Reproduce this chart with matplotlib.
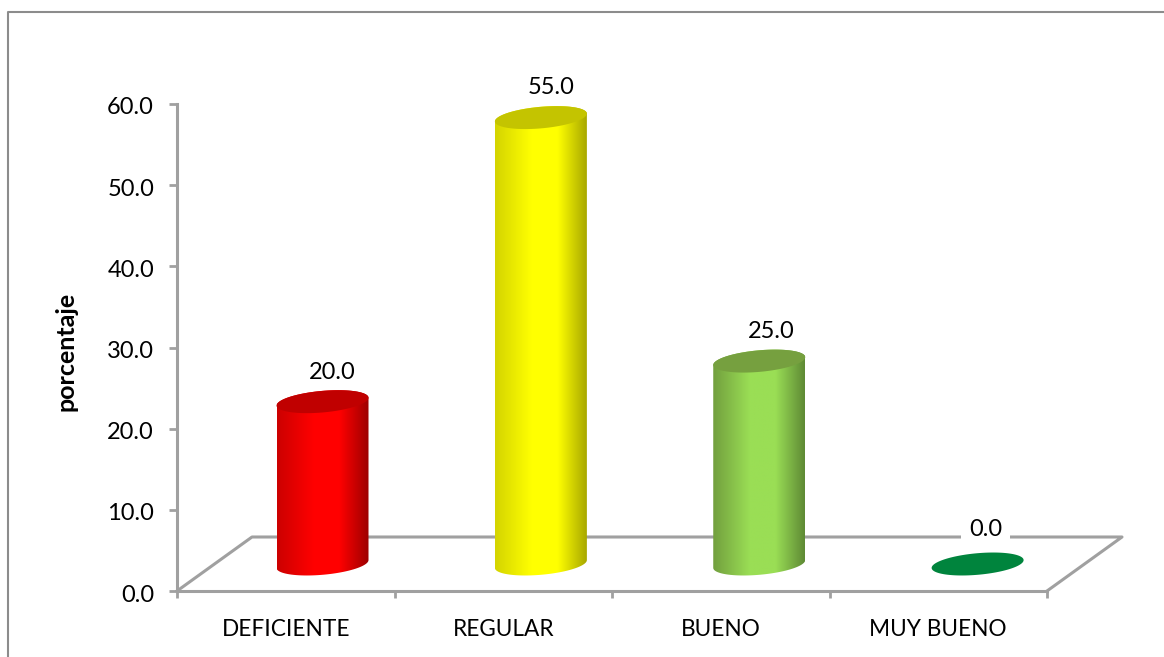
import numpy as np
import matplotlib.pyplot as plt
from matplotlib.colors import LinearSegmentedColormap
from matplotlib.lines import Line2D
from matplotlib.patches import Polygon
from matplotlib.transforms import ScaledTranslation

categories = ["DEFICIENTE", "REGULAR", "BUENO", "MUY BUENO"]
values = [20.0, 55.0, 25.0, 0.0]
y_ticks = [0, 10, 20, 30, 40, 50, 60]
# left edge, bright, dark right edge, top face
bar_colors = [
    ["#cc0000", "#ff0000", "#9c0000", "#c00000"],
    ["#d4d400", "#ffff00", "#a8a800", "#c4c400"],
    ["#729f3e", "#9ade55", "#5f8a35", "#76a03f"],
    ["#00843d", "#00843d", "#00843d", "#00843d"],
]
label_dx = [10, 10, 12, 8]
label_dy = [29, 30, 30, 34]

plt.rcParams["font.family"] = ["Lato", "DejaVu Sans"]
fig = plt.figure(figsize=(11.64, 6.57), dpi=100)
ax = fig.add_axes([177 / 1164, 66 / 657, 870 / 1164, 487 / 657])
ax.set_xlim(0, 4)
ax.set_ylim(0, 60)

# pixels per data unit
sx = 870 / 4
sy = 487 / 60
depth_x = 75 / sx
depth_y = 54 / sy
gray = "#a0a0a0"

# outer frame only shows on the left and top, the rest is cropped
fig.add_artist(Line2D([8 / 1164, 8 / 1164, 1], [0, 1 - 11.5 / 657, 1 - 11.5 / 657],
                      color="#8c8c8c", lw=1.5, transform=fig.transFigure))

ax.plot([0, depth_x, 4 + depth_x, 4], [0, depth_y, depth_y, 0], color=gray, lw=2.2,
        clip_on=False, zorder=1)


def ellipse(cx, cy, t):
    a = 46
    b = 10.8
    tilt = 0.085
    px = a * np.cos(t)
    py = a * tilt * np.cos(t) + b * np.sin(t)
    return cx + px / sx, cy + py / sy


t_all = np.linspace(0, 2 * np.pi, 100)
t_low = np.linspace(np.pi, 2 * np.pi, 50)
t_up = np.linspace(0, np.pi, 50)
for i, v in enumerate(values):
    cx = 0.669 + i * 1.004
    base = depth_y / 2
    top = base + v
    c = bar_colors[i]
    if v > 0:
        xb, yb = ellipse(cx, base, t_low)
        xt, yt = ellipse(cx, top, t_up)
        poly = Polygon(np.column_stack([np.r_[xb, xt], np.r_[yb, yt]]), closed=True,
                       transform=ax.transData, fc="none", ec="none")
        ax.add_patch(poly)
        cmap = LinearSegmentedColormap.from_list(
            "cyl", [(0, c[0]), (0.4, c[1]), (0.68, c[1]), (1, c[2])])
        im = ax.imshow(np.linspace(0, 1, 256)[None, :], cmap=cmap, aspect="auto",
                       interpolation="bilinear",
                       extent=[cx - 46 / sx, cx + 46 / sx, base - 3, top + 3], zorder=3)
        im.set_clip_path(poly)
    xe, ye = ellipse(cx, top, t_all)
    ax.fill(xe, ye, color=c[3], lw=0, zorder=4)
    ax.annotate(f"{v:.1f}", (cx, top), xytext=(label_dx[i] * 0.72, label_dy[i] * 0.72),
                textcoords="offset points", ha="center", va="center", fontsize=17,
                color="black", zorder=5,
                bbox=dict(fc="white", ec="none", pad=6) if v == 0 else None)

ax.set_xlim(0, 4)
ax.set_ylim(0, 60)
for s in ["top", "right"]:
    ax.spines[s].set_visible(False)
for s in ["left", "bottom"]:
    ax.spines[s].set_color(gray)
    ax.spines[s].set_linewidth(2.2)
ax.patch.set_alpha(0)
ax.set_xticks(range(5))
ax.set_xticklabels([])
ax.set_xticks(np.arange(4) + 0.5, categories, minor=True)
ax.tick_params(axis="x", which="major", length=5, width=2, color=gray)
ax.tick_params(axis="x", which="minor", length=0, pad=20.5, labelsize=16.3)
ax.set_yticks(y_ticks, [f"{t:.1f}" for t in y_ticks])
ax.tick_params(axis="y", length=6, width=2, color=gray, labelsize=17, pad=10.5)
# labels sit a little under their ticks in the original
shift = ScaledTranslation(0, -2 / 100, fig.dpi_scale_trans)
for lab in ax.get_yticklabels():
    lab.set_transform(lab.get_transform() + shift)
fig.text(66 / 1164, 1 - 351 / 657, "porcentaje", rotation=90, ha="center", va="center",
         fontsize=18, fontweight="bold")

fig.savefig("out.png", dpi=100)
